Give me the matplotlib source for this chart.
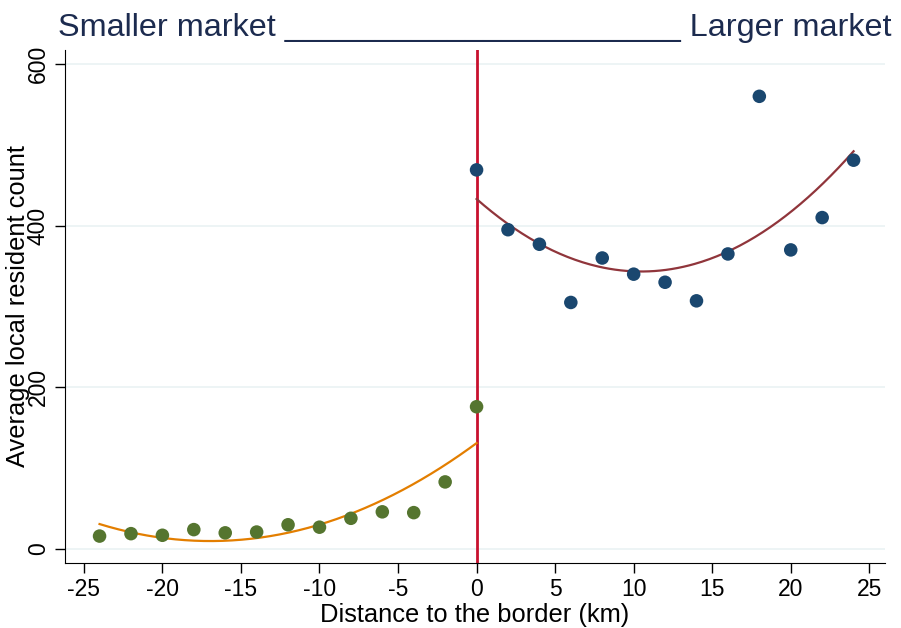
import matplotlib
matplotlib.use('Agg')
import matplotlib.pyplot as plt
import numpy as np

plt.rcParams['font.family'] = ['Liberation Sans', 'DejaVu Sans']
plt.rcParams['axes.unicode_minus'] = False

# binned means, larger market side (distance >= 0)
right_x = [0, 2, 4, 6, 8, 10, 12, 14, 16, 18, 20, 22, 24]
right_y = [469, 395, 377, 305, 360, 340, 330, 307, 365, 560, 370, 410, 481]

# binned means, smaller market side (distance <= 0)
left_x = [-24, -22, -20, -18, -16, -14, -12, -10, -8, -6, -4, -2, 0]
left_y = [16, 19, 17, 24, 20, 21, 30, 27, 38, 46, 45, 83, 176]

# quadratic fit coefficients (c0, c1, c2)
right_fit = [433.0, -17.1, 0.815]
left_fit = [131.0, 14.3, 0.422]
right_span = (0, 24)
left_span = (-24, 0)

xticks = [-25, -20, -15, -10, -5, 0, 5, 10, 15, 20, 25]
yticks = [0, 200, 400, 600]

navy = '#1a476f'
maroon = '#90353b'
green = '#55752f'
orange = '#e37e00'

fig = plt.figure(figsize=(9.01, 6.28), dpi=100)
ax = fig.add_axes([65 / 901, 65 / 628, 820 / 901, 513 / 628])

for y in yticks:
    ax.axhline(y, color='#eaf2f3', lw=1.2, zorder=0)

ax.axvline(0, color='#c8102e', lw=2, zorder=1)

xs = np.linspace(*right_span, 200)
ax.plot(xs, np.polyval(right_fit[::-1], xs), color=maroon, lw=1.6, zorder=2)
xs = np.linspace(*left_span, 200)
ax.plot(xs, np.polyval(left_fit[::-1], xs), color=orange, lw=1.6, zorder=2)

ax.scatter(right_x, right_y, s=95, color=navy, edgecolors='none', zorder=3)
ax.scatter(left_x, left_y, s=95, color=green, edgecolors='none', zorder=3)

ax.set_xlim(-26.2, 26.0)
ax.set_ylim(-17.3, 617.3)
ax.set_xticks(xticks)
ax.set_yticks(yticks)
ax.set_yticklabels([str(v) for v in yticks], rotation=90, va='center')
ax.tick_params(axis='both', labelsize=16.5, length=7, width=1, direction='out', pad=4)
ax.spines['top'].set_visible(False)
ax.spines['right'].set_visible(False)

ax.set_xlabel('Distance to the border (km)', fontsize=18.4, labelpad=1)
ax.set_ylabel('Average local resident count', fontsize=18.4)
ax.yaxis.set_label_coords(-0.043, 0.5)

ax.set_title('Smaller market ______________________ Larger market',
             fontsize=23.3, color='#1c2b4f', pad=10)

fig.savefig('out.png', dpi=100)
